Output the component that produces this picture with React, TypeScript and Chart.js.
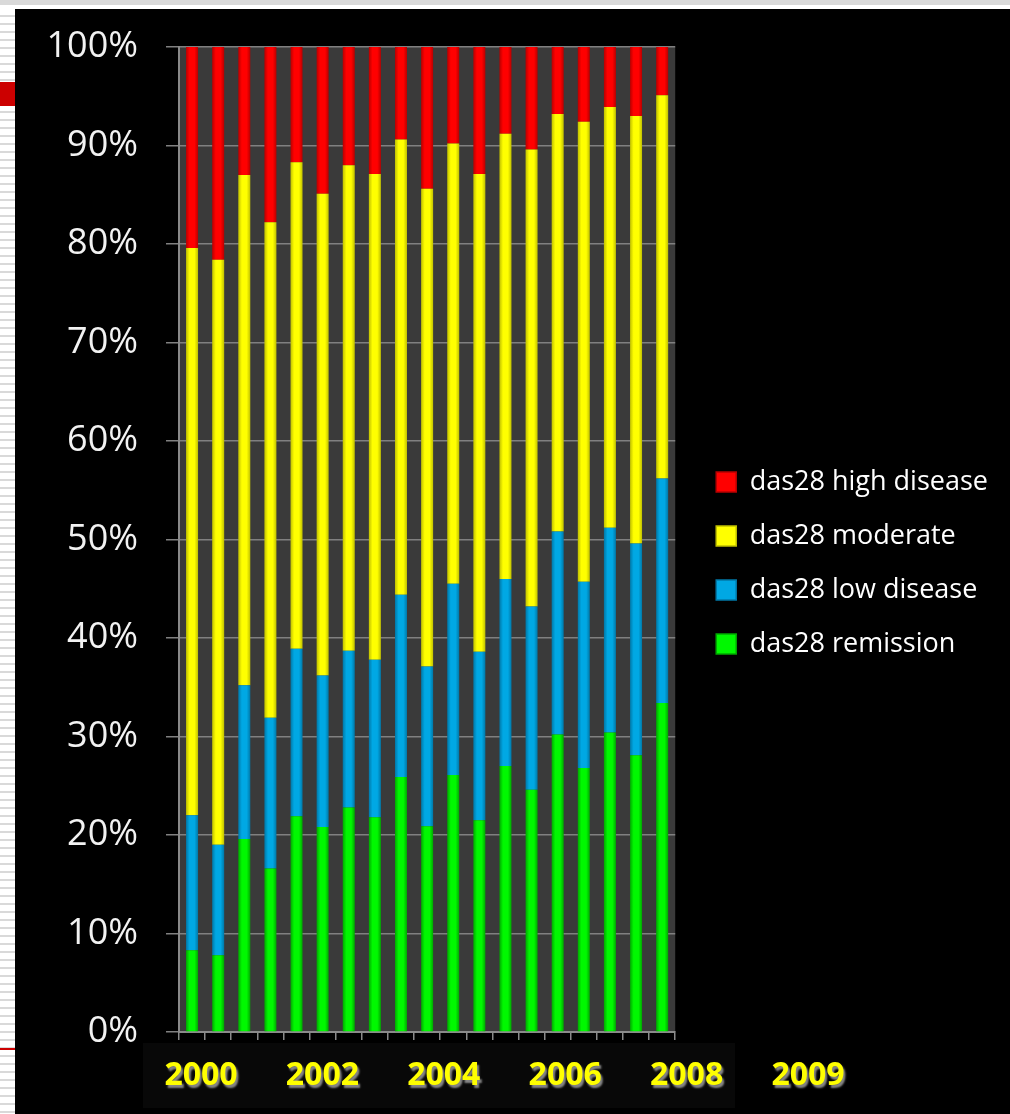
import React, { useEffect, useRef } from "react";
import { Chart, registerables } from "chart.js";

Chart.register(...registerables);

const categories = [
  "2000 H1", "2000 H2", "2001 H1", "2001 H2", "2002 H1", "2002 H2", "2003 H1", "2003 H2",
  "2004 H1", "2004 H2", "2005 H1", "2005 H2", "2006 H1", "2006 H2", "2007 H1", "2007 H2",
  "2008 H1", "2008 H2", "2009 H1",
];

const remission = [8.3, 7.8, 19.6, 16.6, 21.9, 20.8, 22.8, 21.8, 25.9, 20.9, 26.1, 21.5, 27.0, 24.6, 30.2, 26.8, 30.4, 28.1, 33.4];
const lowDisease = [13.7, 11.2, 15.6, 15.3, 17.0, 15.4, 15.9, 16.0, 18.5, 16.2, 19.4, 17.1, 19.0, 18.6, 20.6, 18.9, 20.8, 21.5, 22.8];
const moderate = [57.6, 59.4, 51.8, 50.3, 49.4, 48.9, 49.3, 49.3, 46.2, 48.5, 44.7, 48.5, 45.2, 46.4, 42.4, 46.7, 42.7, 43.4, 38.9];
const highDisease = [20.4, 21.6, 13.0, 17.8, 11.7, 14.9, 12.0, 12.9, 9.4, 14.4, 9.8, 12.9, 8.8, 10.4, 6.8, 7.6, 6.1, 7.0, 4.9];

const seriesNames = ["das28 remission", "das28 low disease", "das28 moderate", "das28 high disease"];
const seriesColors = ["#00f800", "#00a8e4", "#ffff00", "#ff0000"];
const seriesEdges = ["#00a800", "#0078a8", "#c0c000", "#b80000"];
const yearLabels = ["2000", "2002", "2004", "2006", "2008", "2009"];

const BAR_FRACTION = 0.46;

function cylinder(base: string, edge: string) {
  return (ctx: any) => {
    if (ctx.type !== "data") return base;
    const chart = ctx.chart;
    const xs = chart.scales && chart.scales.x;
    const area = chart.chartArea;
    if (!xs || !area) return base;
    const cx = xs.getPixelForValue(ctx.dataIndex);
    const w = (area.width / categories.length) * BAR_FRACTION;
    const g = chart.ctx.createLinearGradient(cx - w / 2, 0, cx + w / 2, 0);
    g.addColorStop(0, edge);
    g.addColorStop(0.3, base);
    g.addColorStop(0.7, base);
    g.addColorStop(1, edge);
    return g;
  };
}

const plotBackground = {
  id: "plotBackground",
  beforeDraw(chart: any) {
    const { ctx, chartArea } = chart;
    if (!chartArea) return;
    ctx.save();
    ctx.fillStyle = "#3a3a3a";
    ctx.fillRect(chartArea.left, chartArea.top, chartArea.width, chartArea.height);
    ctx.restore();
  },
};

const yearRow = {
  id: "yearRow",
  afterDraw(chart: any) {
    const { ctx, chartArea } = chart;
    if (!chartArea) return;
    ctx.save();
    ctx.fillStyle = "#080808";
    const boxLeft = chartArea.left - 36;
    const boxTop = chartArea.bottom + 11;
    ctx.fillRect(boxLeft, boxTop, 592, 65);
    ctx.font = "bold 32px 'Open Sans'";
    ctx.textAlign = "center";
    ctx.textBaseline = "alphabetic";
    ctx.shadowColor = "rgba(150,150,150,0.9)";
    ctx.shadowOffsetX = 2;
    ctx.shadowOffsetY = 3;
    ctx.shadowBlur = 2;
    ctx.fillStyle = "#ffff00";
    yearLabels.forEach((t, i) => {
      ctx.fillText(t, chartArea.left + 22 + i * 121.4, chartArea.bottom + 53);
    });
    ctx.restore();
  },
};

export default function App() {
  const ref = useRef<HTMLCanvasElement | null>(null);

  useEffect(() => {
    if (!ref.current) return;
    const chart = new Chart(ref.current, {
      type: "bar",
      data: {
        labels: categories,
        datasets: [
          { label: seriesNames[0], data: remission, backgroundColor: cylinder(seriesColors[0], seriesEdges[0]) as any, stack: "s" },
          { label: seriesNames[1], data: lowDisease, backgroundColor: cylinder(seriesColors[1], seriesEdges[1]) as any, stack: "s" },
          { label: seriesNames[2], data: moderate, backgroundColor: cylinder(seriesColors[2], seriesEdges[2]) as any, stack: "s" },
          { label: seriesNames[3], data: highDisease, backgroundColor: cylinder(seriesColors[3], seriesEdges[3]) as any, stack: "s" },
        ],
      },
      options: {
        responsive: false,
        animation: false,
        maintainAspectRatio: false,
        datasets: { bar: { categoryPercentage: 1, barPercentage: BAR_FRACTION, borderWidth: 0 } },
        layout: { padding: { top: 3, right: 12, bottom: 0, left: 0 } },
        plugins: {
          title: { display: false },
          tooltip: { enabled: false },
          legend: {
            position: "right",
            reverse: true,
            maxWidth: 400,
            labels: {
              color: "#ffffff",
              font: { family: "'Open Sans'", size: 27 },
              boxWidth: 20,
              boxHeight: 20,
              padding: 27,
              generateLabels: (c: any) => {
                const items = Chart.defaults.plugins.legend.labels.generateLabels(c);
                return items.map((it: any) => ({
                  ...it,
                  fillStyle: seriesColors[it.datasetIndex],
                  strokeStyle: seriesEdges[it.datasetIndex],
                  lineWidth: 1.5,
                }));
              },
            },
          },
        },
        scales: {
          x: {
            stacked: true,
            grid: { display: true, drawOnChartArea: false, drawTicks: true, tickLength: 8, color: "#8a8a8a", lineWidth: 1.5 },
            border: { display: true, color: "#8a8a8a", width: 2 },
            ticks: { display: false },
            afterFit: (a: any) => { a.height = 82; },
          },
          xTop: {
            type: "category",
            position: "top",
            display: true,
            grid: { display: false },
            border: { display: false },
            ticks: { display: false },
            afterFit: (a: any) => { a.height = 35; },
          },
          y: {
            stacked: true,
            min: 0,
            max: 100,
            ticks: {
              stepSize: 10,
              color: "#f2f2f2",
              font: { family: "'Open Sans'", size: 36 },
              padding: 28,
              callback: (v: any) => v + "%",
            },
            grid: { color: "#808080", lineWidth: 1.5, drawTicks: true, tickLength: 13 },
            border: { display: true, color: "#8a8a8a", width: 2 },
            afterFit: (a: any) => { a.width = 164; a.paddingTop = 0; a.paddingBottom = 0; },
          },
          yRight: {
            type: "linear",
            position: "right",
            display: true,
            grid: { display: false },
            border: { display: false },
            ticks: { display: false },
            afterFit: (a: any) => { a.width = 14; a.paddingTop = 0; a.paddingBottom = 0; },
          },
        },
      } as any,
      plugins: [plotBackground, yearRow],
    });
    return () => chart.destroy();
  }, []);

  return (
    <div style={{ position: "absolute", left: 0, top: 0, width: 1010, height: 1114, background: "#ffffff", overflow: "hidden" }}>
      <div style={{ position: "absolute", left: 0, top: 0, width: 1010, height: 5, background: "#d9d9d9" }} />
      <div
        style={{
          position: "absolute", left: 0, top: 9, width: 15, height: 1105,
          background: "repeating-linear-gradient(to bottom, #ffffff 0px, #ffffff 6px, #d9d9d9 6px, #d9d9d9 8px)",
        }}
      />
      <div style={{ position: "absolute", left: 0, top: 82, width: 15, height: 24, background: "#cc0000" }} />
      <div style={{ position: "absolute", left: 0, top: 1048, width: 15, height: 2, background: "#cc0000" }} />
      <div style={{ position: "absolute", left: 15, top: 9, width: 995, height: 1105, background: "#000000" }}>
        <canvas ref={ref} width={995} height={1105} style={{ display: "block", width: 995, height: 1105 }} />
      </div>
    </div>
  );
}
